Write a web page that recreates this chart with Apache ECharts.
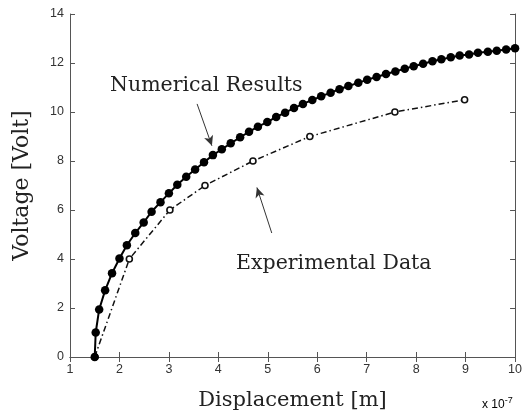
<!DOCTYPE html>
<html><head><meta charset="utf-8">
<script src="https://cdn.jsdelivr.net/npm/echarts@6/dist/echarts.min.js"></script>
<style>html,body{margin:0;padding:0;background:#fff}#c{width:525px;height:416px}</style>
</head><body><div id="c"></div>
<script>
var numX = [1.5,1.52,1.59,1.71,1.85,2.0,2.15,2.32,2.49,2.65,2.83,3.0,3.17,3.35,3.53,3.71,3.89,4.07,4.25,4.44,4.62,4.8,4.99,5.17,5.35,5.53,5.71,5.9,6.08,6.27,6.45,6.63,6.83,7.01,7.2,7.39,7.58,7.77,7.95,8.14,8.33,8.51,8.7,8.88,9.07,9.25,9.45,9.63,9.82,10.0];
var numY = [0,1.0,1.94,2.72,3.42,4.02,4.56,5.06,5.49,5.93,6.32,6.68,7.03,7.36,7.65,7.95,8.24,8.48,8.72,8.97,9.19,9.4,9.59,9.8,9.97,10.16,10.33,10.49,10.64,10.79,10.93,11.06,11.19,11.32,11.43,11.55,11.65,11.77,11.87,11.97,12.07,12.15,12.23,12.31,12.35,12.42,12.46,12.5,12.55,12.6];
var expX = [1.5,2.2,3.02,3.73,4.7,5.85,7.57,8.98];
var expY = [0,4.0,6.0,7.0,8.0,9.0,10.0,10.5];
var xTicks = [1,2,3,4,5,6,7,8,9,10];
var yTicks = [0,2,4,6,8,10,12,14];
var numArrow = [[3.57,10.33],[3.87,8.62]];
var expArrow = [[5.08,5.06],[4.78,6.92]];

var chart = echarts.init(document.getElementById('c'), null, {renderer:'canvas'});
function pairs(xs, ys){ return xs.map(function(x,i){return [x, ys[i]];}); }
var axisCommon = {
  axisLine:{show:true,lineStyle:{color:'#555',width:1}},
  axisTick:{show:true,inside:true,length:5,lineStyle:{color:'#555'}},
  splitLine:{show:false}
};
var serif = '"DejaVu Serif","Liberation Serif",serif';
var sans = '"Liberation Sans",Arial,sans-serif';
var option = {
  animation:false,
  grid:{left:70,right:5,top:14,bottom:48},
  xAxis:[
    Object.assign({type:'value',min:1,max:10,interval:1,position:'bottom',
      axisLabel:{color:'#333',fontSize:12.5,fontFamily:sans,margin:6},
      name:'Displacement [m]',nameLocation:'middle',nameGap:33,
      nameTextStyle:{fontFamily:serif,fontSize:21,color:'#222'}}, axisCommon),
    Object.assign({type:'value',min:1,max:10,interval:1,position:'top',axisLabel:{show:false}}, axisCommon)
  ],
  yAxis:[
    Object.assign({type:'value',min:0,max:14,interval:2,position:'left',
      axisLabel:{color:'#333',fontSize:12.5,fontFamily:sans,margin:6},
      name:'Voltage [Volt]',nameLocation:'middle',nameGap:37,
      nameTextStyle:{fontFamily:serif,fontSize:22,color:'#222'}}, axisCommon),
    Object.assign({type:'value',min:0,max:14,interval:2,position:'right',axisLabel:{show:false}}, axisCommon)
  ],
  series:[
    {type:'line',data:pairs(expX,expY),xAxisIndex:0,yAxisIndex:0,clip:false,
     symbol:'circle',symbolSize:6,
     itemStyle:{color:'#fff',borderColor:'#111',borderWidth:1.6},
     lineStyle:{color:'#111',width:1.5,type:[6,3,1.5,3]},
     markLine:{silent:true,symbol:['none','arrow'],symbolSize:[7,10],
       lineStyle:{color:'#333',width:1,type:'solid'},label:{show:false},
       data:[[{coord:expArrow[0]},{coord:expArrow[1]}]]}},
    {type:'line',data:pairs(numX,numY),xAxisIndex:0,yAxisIndex:0,clip:false,
     symbol:'circle',symbolSize:8.5,
     itemStyle:{color:'#000'},
     lineStyle:{color:'#000',width:2},
     markLine:{silent:true,symbol:['none','arrow'],symbolSize:[7,10],
       lineStyle:{color:'#333',width:1,type:'solid'},label:{show:false},
       data:[[{coord:numArrow[0]},{coord:numArrow[1]}]]}}
  ],
  graphic:[
    {type:'text',left:110,top:75,style:{text:'Numerical Results',font:'20.5px '+serif,fill:'#222'}},
    {type:'text',left:236,top:253,style:{text:'Experimental Data',font:'20.5px '+serif,fill:'#222'}},
    {type:'text',left:482,top:396,style:{rich:{a:{fontSize:12,fontFamily:sans,color:'#333'},b:{fontSize:9,fontFamily:sans,color:'#333',verticalAlign:'top',padding:[0,0,8,0]}},text:'{a|x 10}{b|-7}'}}
  ]
};
chart.setOption(option);
</script></body></html>
